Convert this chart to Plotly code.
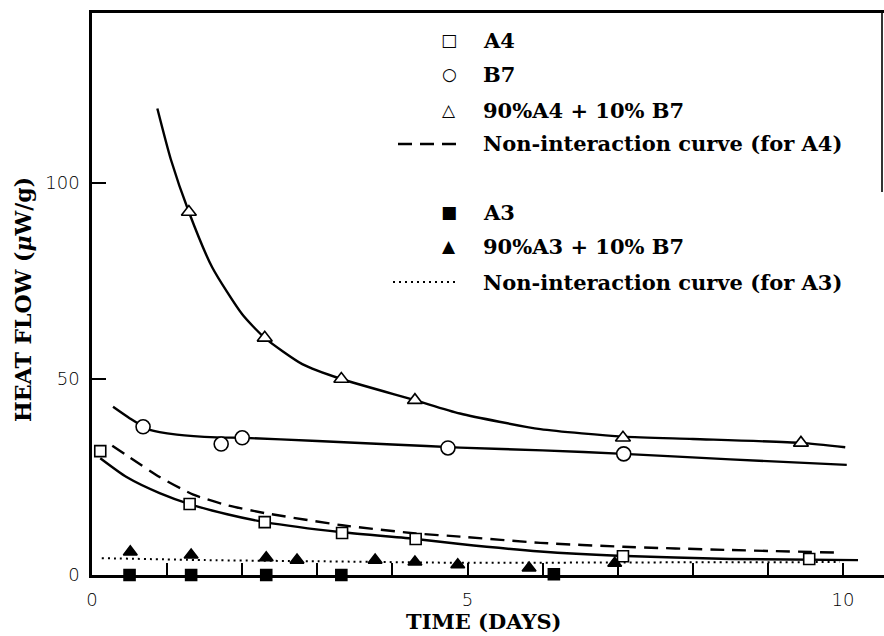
import plotly.graph_objects as go

# ---------------- data ----------------
# Measured points
a4_x = [0.11, 1.30, 2.30, 3.33, 4.31, 7.07, 9.55]
a4_y = [31.6, 18.1, 13.5, 10.7, 9.2, 4.8, 4.1]

b7_x = [0.68, 1.72, 2.00, 4.74, 7.08]
b7_y = [37.8, 33.4, 35.0, 32.4, 30.9]

mix4_x = [1.29, 2.30, 3.32, 4.30, 7.07, 9.44]
mix4_y = [92.6, 60.5, 50.0, 44.6, 35.0, 33.7]

a3_x = [0.50, 1.32, 2.32, 3.32, 6.15]
a3_y = [0.0, 0.0, 0.0, 0.0, 0.2]

mix3_x = [0.51, 1.32, 2.32, 2.73, 3.77, 4.30, 4.87, 5.82, 6.96]
mix3_y = [5.9, 5.1, 4.4, 3.8, 3.8, 3.3, 2.6, 1.8, 3.0]

# Hand-drawn fitted curves
mix4_curve_x = [0.87, 1.05, 1.29, 1.60, 2.00, 2.30, 2.80, 3.32, 4.30, 4.90, 5.97, 7.07, 8.00, 9.44, 10.03]
mix4_curve_y = [119.0, 106.0, 92.6, 78.5, 66.5, 60.5, 53.8, 50.0, 44.6, 41.2, 37.2, 35.3, 34.7, 33.7, 32.6]

b7_curve_x = [0.28, 0.50, 0.77, 1.13, 1.66, 2.00, 3.00, 4.00, 4.90, 6.00, 7.08, 8.50, 10.05]
b7_curve_y = [42.9, 40.0, 37.0, 35.8, 35.1, 35.0, 34.2, 33.3, 32.5, 31.8, 30.9, 29.5, 28.1]

a4_curve_x = [0.11, 0.46, 0.90, 1.30, 1.80, 2.30, 3.33, 4.31, 4.90, 5.97, 7.00, 8.50, 10.20]
a4_curve_y = [29.8, 25.0, 20.9, 18.1, 15.5, 13.5, 10.9, 9.2, 7.9, 6.0, 4.9, 4.1, 3.8]

nonint4_x = [0.27, 0.90, 1.35, 1.80, 2.30, 3.33, 4.31, 4.90, 5.97, 7.07, 8.45, 9.96]
nonint4_y = [33.0, 25.0, 20.5, 17.8, 15.8, 12.7, 10.6, 9.8, 8.2, 7.2, 6.4, 5.7]

nonint3_x = [0.13, 1.50, 3.00, 5.00, 7.00, 9.96]
nonint3_y = [4.3, 3.8, 3.5, 3.1, 3.2, 3.3]

x_tick_vals = [0, 1, 2, 3, 4, 5, 6, 7, 8, 9, 10]
x_tick_text = ["0", "", "", "", "", "5", "", "", "", "", "10"]
y_tick_vals = [0, 50, 100]
y_tick_text = ["0", "50", "100"]

legend_labels = ["A4", "B7", "90%A4 + 10% B7", "Non-interaction curve (for A4)",
                 "A3", "90%A3 + 10% B7", "Non-interaction curve (for A3)"]
legend_symbols = ["\u25a1", "\u25cb", "\u25b3", None, "\u25a0", "\u25b2", None]

# ---------------- figure ----------------
W, H = 884, 636
L, R, T, B = 92, 0, 13, 61
PW, PH = W - L - R, H - T - B
XMAX = PW / 75.1
YMAX = PH / 3.92

SERIF = "DejaVu Serif"
SANS = "DejaVu Sans"
LW = 2.4

fig = go.Figure()

def curve(x, y, dash="solid", width=LW):
    fig.add_trace(go.Scatter(x=x, y=y, mode="lines", line=dict(color="black", width=width, dash=dash, shape="spline", smoothing=0.6),
                             hoverinfo="skip", showlegend=False, cliponaxis=False))

curve(mix4_curve_x, mix4_curve_y)
curve(b7_curve_x, b7_curve_y)
curve(a4_curve_x, a4_curve_y)
curve(nonint4_x, nonint4_y, dash="14px,8px")
curve(nonint3_x, nonint3_y, dash="2px,4px", width=2)

def pts(x, y, symbol, size, filled):
    fig.add_trace(go.Scatter(x=x, y=y, mode="markers", showlegend=False, cliponaxis=False,
                             marker=dict(symbol=symbol, size=size,
                                         color="black" if filled else "white",
                                         line=dict(color="black", width=1.6))))

pts(a4_x, a4_y, "square", 11, False)
pts(b7_x, b7_y, "circle", 14, False)
pts(mix4_x, mix4_y, "triangle-up", 13, False)
pts(a3_x, a3_y, "square", 11, True)
pts(mix3_x, mix3_y, "triangle-up", 12, True)

# ---------------- custom legend ----------------
def px_to_paper_y(py):
    return (H - B - py) / PH

def px_to_paper_x(px):
    return (px - L) / PW

row_py = [40, 74, 110, 144, 212, 246, 282]
annotations = []
shapes = []
for lab, sym, py in zip(legend_labels, legend_symbols, row_py):
    annotations.append(dict(text=lab, x=px_to_paper_x(481), y=px_to_paper_y(py), xref="paper", yref="paper",
                            xanchor="left", yanchor="middle", showarrow=False,
                            font=dict(family=SERIF, size=21, color="black", weight="bold")))
    if sym is not None:
        annotations.append(dict(text=sym, x=px_to_paper_x(449), y=px_to_paper_y(py), xref="paper", yref="paper",
                                xanchor="center", yanchor="middle", showarrow=False,
                                font=dict(family=SANS, size=17, color="black")))

shapes.append(dict(type="line", xref="paper", yref="paper",
                   x0=px_to_paper_x(398), x1=px_to_paper_x(458), y0=px_to_paper_y(144), y1=px_to_paper_y(144),
                   line=dict(color="black", width=2.4, dash="14px,8px")))
shapes.append(dict(type="line", xref="paper", yref="paper",
                   x0=px_to_paper_x(393), x1=px_to_paper_x(455), y0=px_to_paper_y(282), y1=px_to_paper_y(282),
                   line=dict(color="black", width=2, dash="2px,4px")))
# partial right border
shapes.append(dict(type="line", xref="paper", yref="paper",
                   x0=px_to_paper_x(882), x1=px_to_paper_x(882), y0=px_to_paper_y(192), y1=1,
                   line=dict(color="black", width=1.6)))

# axis titles
annotations.append(dict(text="TIME (DAYS)", x=px_to_paper_x(484), y=px_to_paper_y(622), xref="paper", yref="paper",
                        xanchor="center", yanchor="middle", showarrow=False,
                        font=dict(family=SERIF, size=21, color="black", weight="bold")))
annotations.append(dict(text="HEAT FLOW (<i>\u03bc</i>W/g)", x=px_to_paper_x(23), y=px_to_paper_y(300), xref="paper", yref="paper",
                        xanchor="center", yanchor="middle", showarrow=False, textangle=-90,
                        font=dict(family=SERIF, size=22, color="black", weight="bold")))

fig.update_layout(
    width=W, height=H,
    margin=dict(l=L, r=R, t=T, b=B, pad=0),
    paper_bgcolor="white", plot_bgcolor="white",
    showlegend=False,
    annotations=annotations, shapes=shapes,
    xaxis=dict(range=[0, XMAX], tickmode="array", tickvals=x_tick_vals, ticktext=x_tick_text,
               ticks="inside", ticklen=12, tickwidth=2, tickcolor="black",
               showline=True, linecolor="black", linewidth=3, mirror=True,
               showgrid=False, zeroline=False, ticklabelstandoff=6,
               tickfont=dict(family=SANS, size=18, color="black", weight=300)),
    yaxis=dict(range=[0, YMAX], tickmode="array", tickvals=y_tick_vals, ticktext=y_tick_text,
               ticks="inside", ticklen=14, tickwidth=2, tickcolor="black",
               showline=True, linecolor="black", linewidth=2.5,
               showgrid=False, zeroline=False, ticklabelstandoff=6,
               tickfont=dict(family=SANS, size=18, color="black", weight=300)),
)

fig.write_html("out.html")
